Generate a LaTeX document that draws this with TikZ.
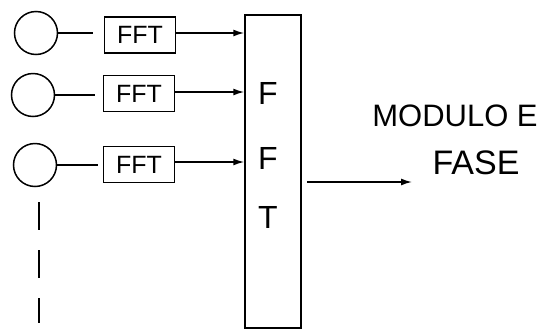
\documentclass[tikz,border=0pt]{standalone}
\usepackage{fontspec}
\setmainfont{Liberation Sans}
\usetikzlibrary{arrows.meta}
\begin{document}
\begin{tikzpicture}[x=1pt,y=-1pt,
  line width=1.5pt,
  src/.style={draw,circle,minimum size=43pt,inner sep=0pt},
  fftbox/.style={draw,minimum width=71pt,minimum height=36pt,inner sep=0pt,font=\fontsize{25}{27}\selectfont},
  big/.style={draw,minimum width=56pt,minimum height=313pt,inner sep=0pt},
  arr/.style={-{Latex[length=11pt,width=7pt]}},
  lbl/.style={font=\fontsize{32}{34}\selectfont,inner sep=0pt}]
\useasboundingbox (0,0) rectangle (543,330);
\node[src] (c1) at (36,33) {};
\node[src] (c2) at (33,95) {};
\node[src] (c3) at (35,165) {};
\node[fftbox] (f1) at (140,35) {FFT};
\node[fftbox] (f2) at (139,93.5) {FFT};
\node[fftbox] (f3) at (139,164.5) {FFT};
\node[big] (B) at (273,171.5) {};
\node[lbl] (t1) at (268,93) {F};
\node[lbl] (t2) at (268,158) {F};
\node[lbl] (t3) at (268,217) {T};
\node[lbl,font=\fontsize{31}{33}\selectfont] (m1) at (455,116) {MODULO E};
\node[lbl,font=\fontsize{34}{36}\selectfont] (m2) at (476,163) {FASE};
\coordinate (o1) at (307,182);
\coordinate (o2) at (412,182);
\coordinate (d1) at (39,202);
\coordinate (d2) at (39,323);
\draw (c1.east) -- ++(35,0) coordinate (e1);
\draw (c2.east) -- ++(40,0) coordinate (e2);
\draw (c3.east) -- ++(41,0) coordinate (e3);
\draw[arr] (f1.east |- 0,33) -- (B.west |- 0,33);
\draw[arr] (f2.east |- 0,92) -- (B.west |- 0,92);
\draw[arr] (f3.east |- 0,162) -- (B.west |- 0,162);
\draw[arr] (o1) -- (o2);
\draw[dash pattern=on 28pt off 20pt] (d1) -- (d2);
\end{tikzpicture}
\end{document}
